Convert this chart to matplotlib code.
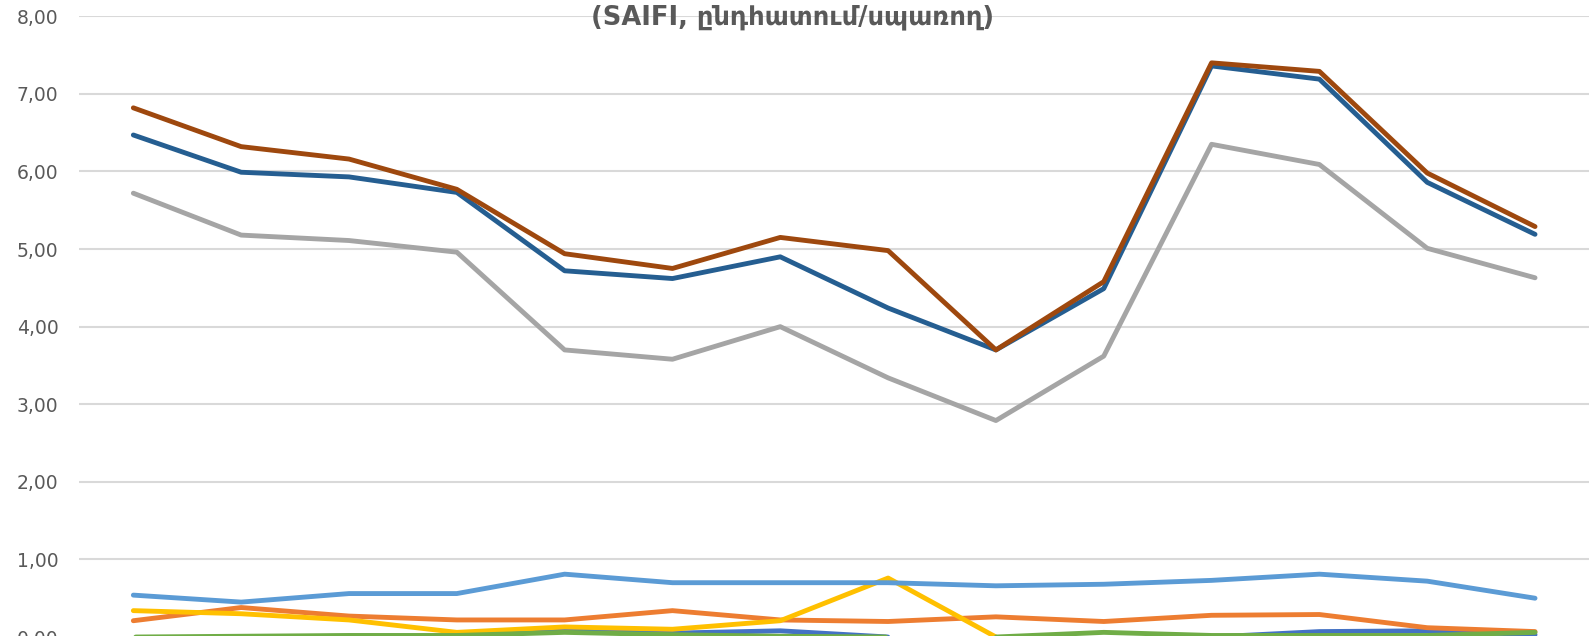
import matplotlib.pyplot as plt
import numpy as np

# 14 periods, x labels are cut off in the reference
n_points = 14
x = np.arange(n_points)

s_blue = [0.00, 0.00, 0.01, 0.01, 0.09, 0.05, 0.08, 0.00, 0.00, 0.00, 0.00, 0.07, 0.08, 0.03]
s_orange = [0.21, 0.38, 0.27, 0.22, 0.22, 0.34, 0.22, 0.20, 0.26, 0.20, 0.28, 0.29, 0.12, 0.07]
s_gray = [5.72, 5.18, 5.11, 4.96, 3.70, 3.58, 4.00, 3.34, 2.79, 3.62, 6.35, 6.09, 5.01, 4.63]
s_yellow = [0.34, 0.30, 0.22, 0.06, 0.13, 0.10, 0.21, 0.76, 0.00, 0.00, 0.00, 0.00, 0.00, 0.00]
s_lightblue = [0.54, 0.45, 0.56, 0.56, 0.81, 0.70, 0.70, 0.70, 0.66, 0.68, 0.73, 0.81, 0.72, 0.50]
s_green = [0.00, 0.01, 0.02, 0.02, 0.06, 0.03, 0.01, 0.00, 0.00, 0.06, 0.02, 0.02, 0.02, 0.06]
s_darkblue = [6.47, 5.99, 5.93, 5.73, 4.72, 4.62, 4.90, 4.24, 3.70, 4.49, 7.36, 7.19, 5.86, 5.19]
s_brown = [6.82, 6.32, 6.16, 5.77, 4.94, 4.75, 5.15, 4.98, 3.70, 4.58, 7.40, 7.29, 5.98, 5.29]

series = [
    (s_blue, '#4472C4'),
    (s_orange, '#ED7D31'),
    (s_gray, '#A5A5A5'),
    (s_yellow, '#FFC000'),
    (s_lightblue, '#5B9BD5'),
    (s_green, '#70AD47'),
    (s_darkblue, '#255E91'),
    (s_brown, '#9E480E'),
]

fig = plt.figure(figsize=(15.95, 6.36), dpi=100)
ax = fig.add_axes([0.0498, -0.0016, 0.9464, 0.976])

for vals, col in series:
    ax.plot(x, vals, color=col, lw=3.5, solid_capstyle='round', solid_joinstyle='round', clip_on=False)

ax.set_xlim(-0.5, n_points - 0.5)
ax.set_ylim(0, 8)
ax.set_yticks(np.arange(0, 9, 1))
ax.set_yticklabels([f'{v:.2f}'.replace('.', ',') for v in range(9)])
ax.set_xticks([])
ax.grid(axis='y', color='#D9D9D9', lw=1.5)
ax.set_axisbelow(True)
for sp in ax.spines.values():
    sp.set_visible(False)
ax.tick_params(axis='y', length=0, pad=15, labelsize=13.5, labelcolor='#595959')

# title is partly cut off at the top edge in the reference
fig.text(0.497, 0.962, '(SAIFI, ընդհատում/սպառող)', ha='center', va='baseline',
         fontsize=18.5, fontweight='bold', color='#595959', family='DejaVu Sans')

fig.savefig('out.png', dpi=100)
